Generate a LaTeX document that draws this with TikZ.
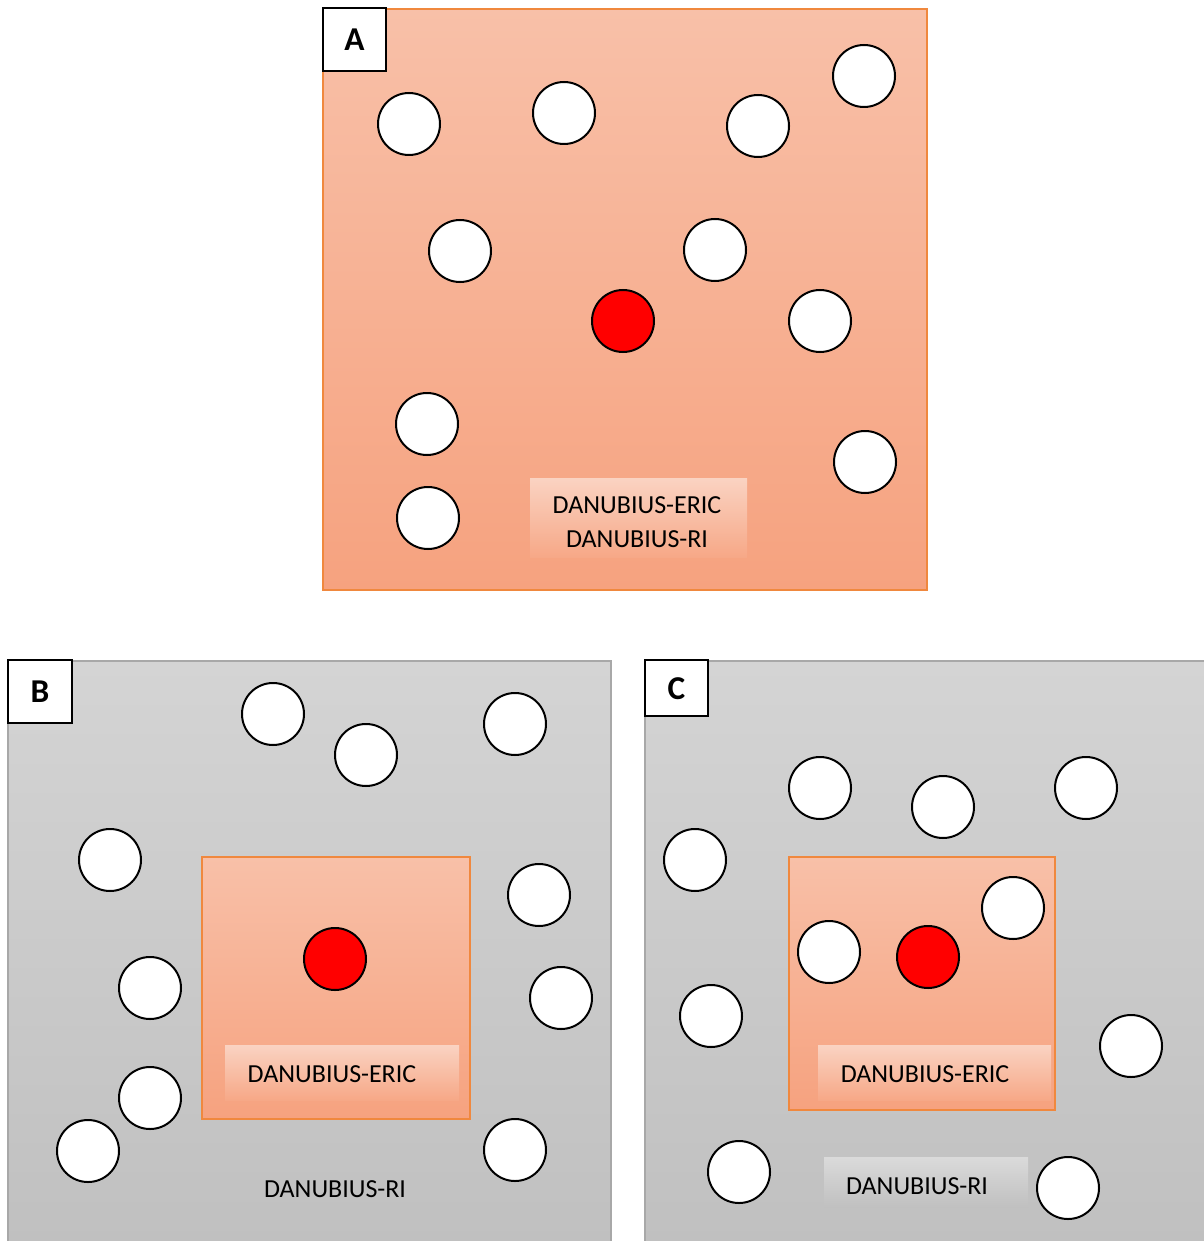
\documentclass[tikz,border=0pt]{standalone}
\usepackage{fontspec}
\setmainfont{Carlito}
\definecolor{peachtop}{HTML}{F8C0A8}
\definecolor{peachbot}{HTML}{F6A27F}
\definecolor{peachedge}{HTML}{F0883E}
\definecolor{greytop}{HTML}{D4D4D4}
\definecolor{greybot}{HTML}{C0C0C0}
\definecolor{greyedge}{HTML}{A8A8A8}
\begin{document}
\begin{tikzpicture}[x=0.75pt, y=-0.75pt,
    dot/.style={circle, draw=black, line width=1.5pt, fill=white, minimum size=46.5pt, inner sep=0pt},
    hub/.style={dot, fill=red},
    letterbox/.style={draw=black, line width=1.5pt, fill=white},
    letter/.style={font=\fontsize{25}{25}\selectfont\bfseries},
    caption/.style={font=\fontsize{19.5}{25}\selectfont, align=center}]
  \useasboundingbox (0,0) rectangle (1203,1241);

  % panel A
  \draw[draw=peachedge, line width=0.8pt, top color=peachtop, bottom color=peachbot] (323,9) rectangle (927,590);
  \draw[letterbox] (323,8) rectangle (386,71);
  \node[letter] (la) at (354.5,40) {A};
  \foreach \px/\py [count=\i] in {409/124, 564/113, 758/126, 864/76, 460/251, 715/250, 820/321, 427/424, 865/462, 428/518}
    \node[dot] (a\i) at (\px,\py) {};
  \node[hub] (ared) at (623,321) {};
  \fill[top color=peachtop!70!white, bottom color=peachbot!80!peachtop] (530,478) rectangle (747,557);
  \node[caption] (atext) at (637,522) {DANUBIUS-ERIC\\DANUBIUS-RI};

  % panel B
  \draw[draw=greyedge, line width=0.8pt, top color=greytop, bottom color=greybot] (8,661) rectangle (611,1245);
  \draw[draw=peachedge, line width=1.2pt, top color=peachtop, bottom color=peachbot] (202,857) rectangle (470,1119);
  \draw[letterbox] (8,660) rectangle (72,723);
  \node[letter] (lb) at (40,691.5) {B};
  \foreach \px/\py [count=\i] in {273/714, 366/755, 515/724, 110/860, 539/895, 150/988, 561/998, 150/1098, 88/1151, 515/1150}
    \node[dot] (b\i) at (\px,\py) {};
  \node[hub] (bred) at (335,959) {};
  \fill[top color=peachtop!70!white, bottom color=peachbot!80!peachtop] (225,1045) rectangle (459,1100);
  \node[caption] (btext) at (332,1074) {DANUBIUS-ERIC};
  \node[caption] (bri) at (335,1189) {DANUBIUS-RI};

  % panel C
  \draw[draw=greyedge, line width=0.8pt, top color=greytop, bottom color=greybot] (645,661) rectangle (1210,1245);
  \draw[draw=peachedge, line width=1.2pt, top color=peachtop, bottom color=peachbot] (789,857) rectangle (1055,1110);
  \draw[letterbox] (645,660) rectangle (708,716);
  \node[letter] (lc) at (676.5,689) {C};
  \foreach \px/\py [count=\i] in {820/788, 943/807, 1086/788, 695/860, 1013/908, 829/952, 711/1016, 1131/1046, 739/1172, 1068/1188}
    \node[dot] (c\i) at (\px,\py) {};
  \node[hub] (cred) at (928,957) {};
  \fill[top color=peachtop!70!white, bottom color=peachbot!80!peachtop] (818,1045) rectangle (1051,1100);
  \node[caption] (ctext) at (925,1074) {DANUBIUS-ERIC};
  \fill[top color=greytop!85!white, bottom color=greybot] (824,1157) rectangle (1028,1207);
  \node[caption] (cri) at (917,1186) {DANUBIUS-RI};
\end{tikzpicture}
\end{document}
